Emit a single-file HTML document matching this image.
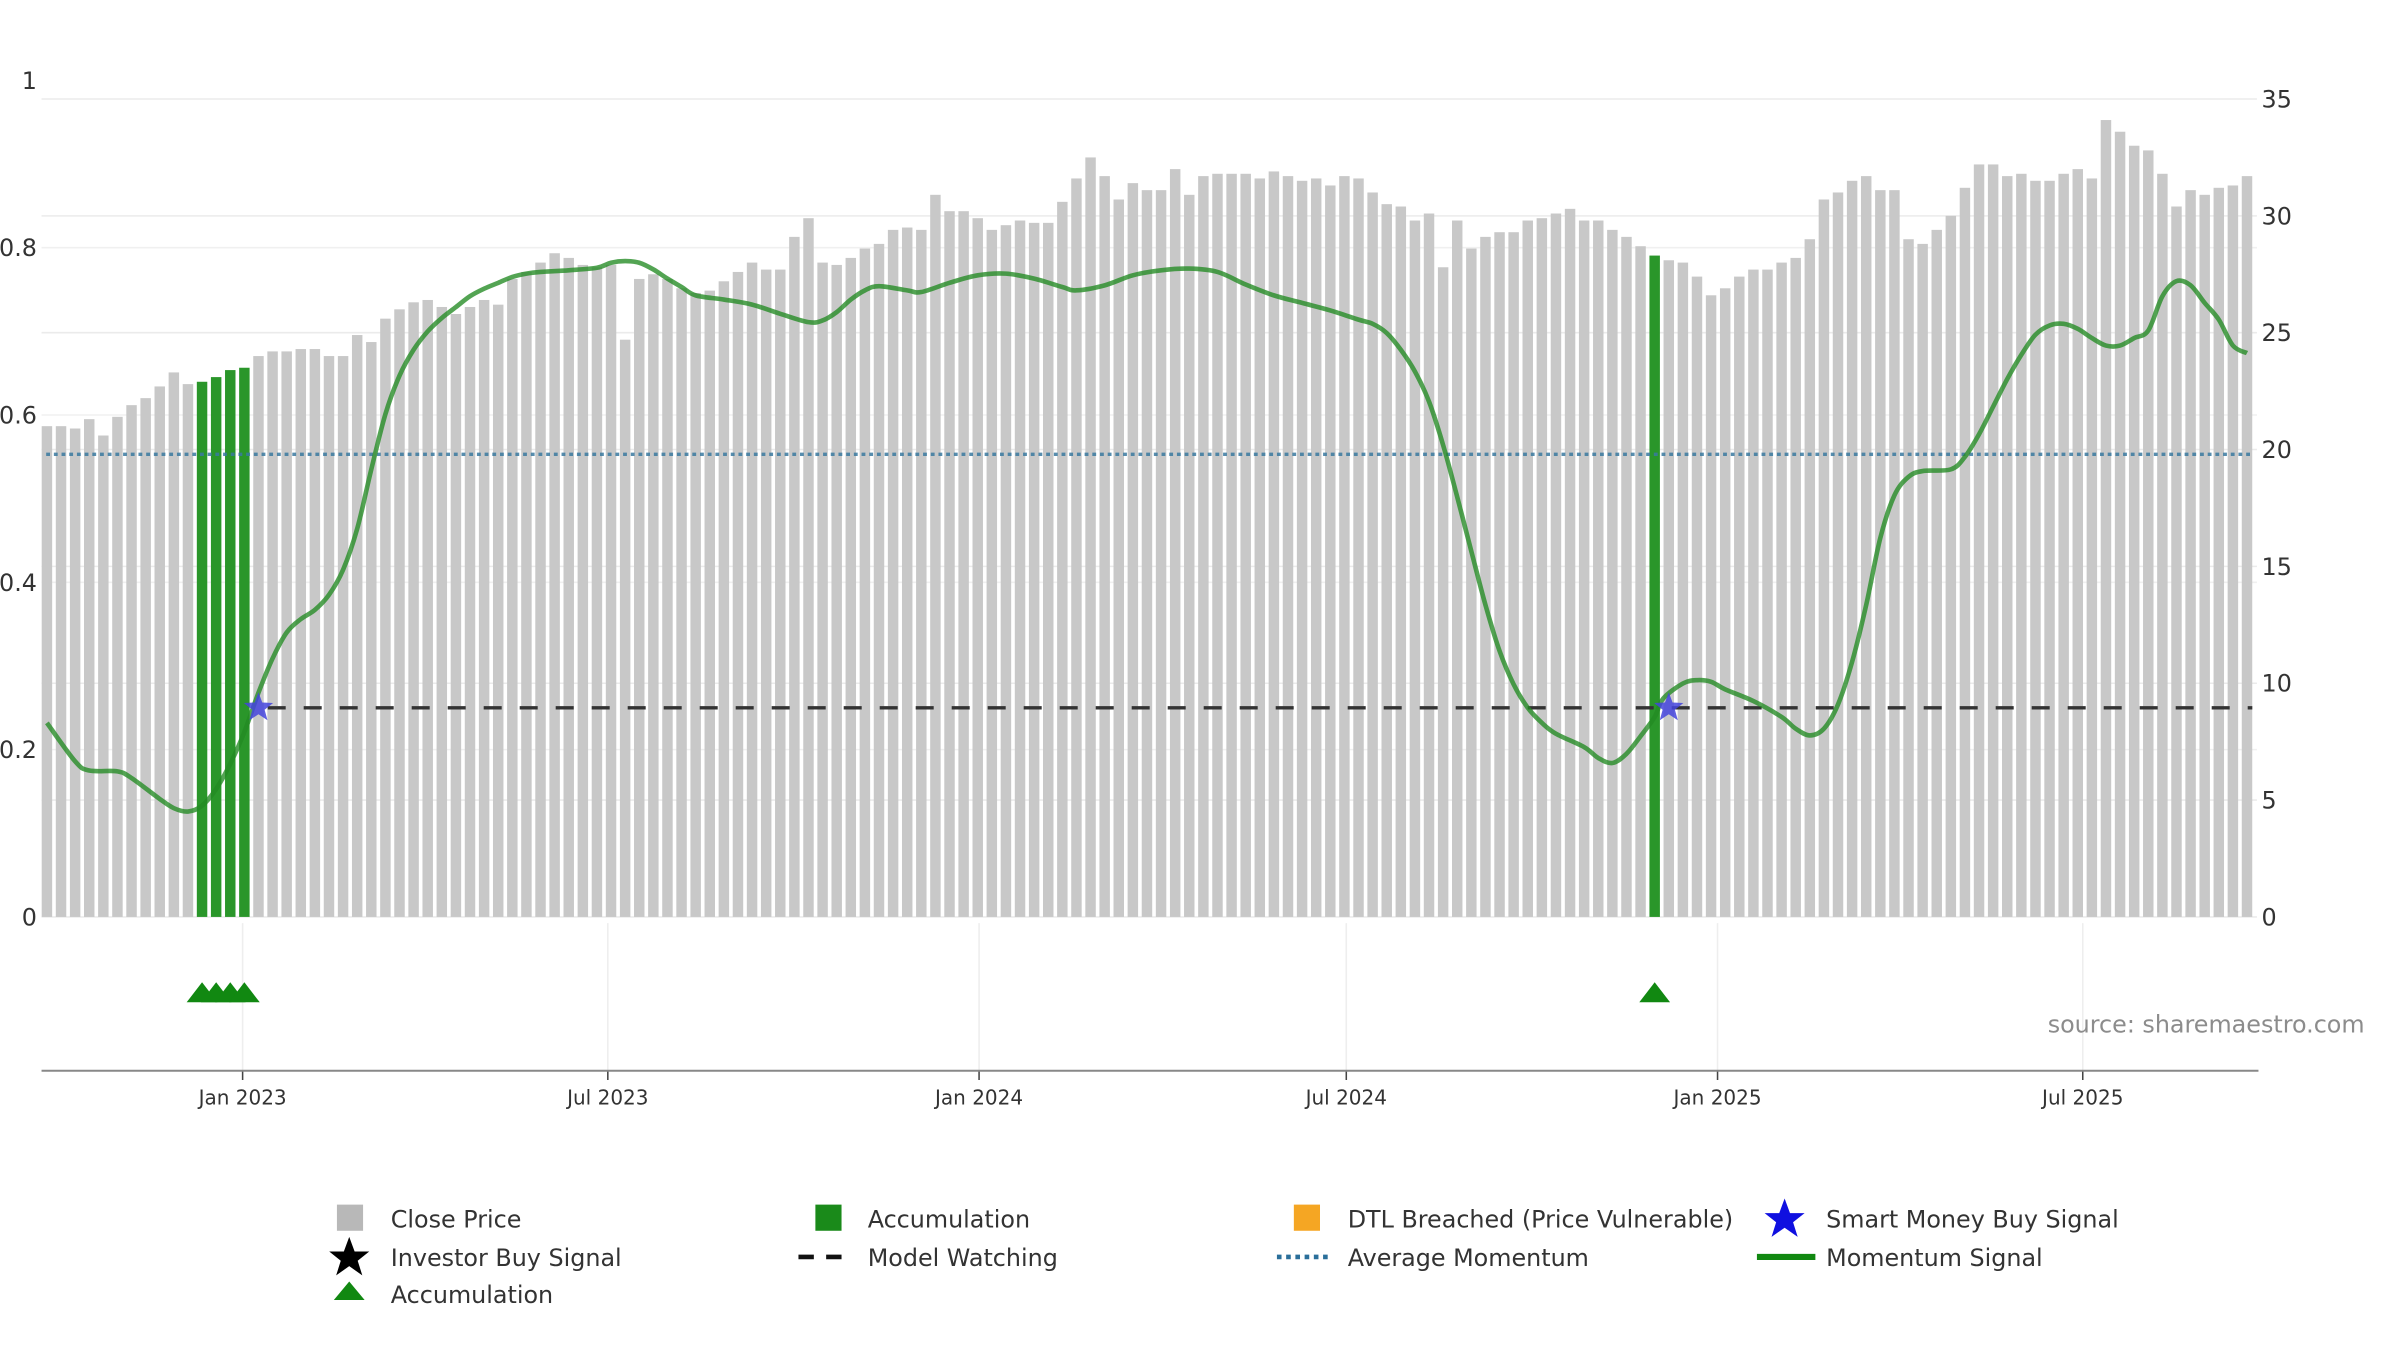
<!DOCTYPE html>
<html><head><meta charset="utf-8">
<style>
html,body{margin:0;padding:0;background:#fff;}
svg{display:block;font-family:"DejaVu Sans","Liberation Sans",sans-serif;}
</style></head>
<body>
<svg id="chart" width="2400" height="1350" viewBox="0 0 1560 877.5" preserveAspectRatio="none" xmlns="http://www.w3.org/2000/svg">
<g id="grid"></g>
<g id="bars"></g>
<g id="lines"></g>
<g id="axes"></g>
<text x="1537" y="671" text-anchor="end" font-size="15.5" fill="#8c8c8c">source: sharemaestro.com</text>
<g id="legend" font-size="15.5" fill="#333">
  <g><rect x="219" y="783" width="17" height="17" fill="#b8b8b8"/><text x="254" y="798">Close Price</text></g>
  <g><rect x="530" y="783" width="17" height="17" fill="#1a8a1a"/><text x="564" y="798">Accumulation</text></g>
  <g><rect x="841" y="783" width="17" height="17" fill="#f5a623"/><text x="876" y="798">DTL Breached (Price Vulnerable)</text></g>
  <g><polygon points="1160,779 1163.5,788.5 1173,788.5 1165.5,794.5 1168.5,804 1160,798 1151.5,804 1154.5,794.5 1147,788.5 1156.5,788.5" fill="#1010e0"/><text x="1187" y="798">Smart Money Buy Signal</text></g>
  <g><polygon points="227,804 230.5,813.5 240,813.5 232.5,819.5 235.5,829 227,823 218.5,829 221.5,819.5 214,813.5 223.5,813.5" fill="#000"/><text x="254" y="823">Investor Buy Signal</text></g>
  <g><line x1="519" y1="817" x2="555" y2="817" stroke="#111" stroke-width="3" stroke-dasharray="10,8"/><text x="564" y="823">Model Watching</text></g>
  <g><line x1="830" y1="817" x2="866" y2="817" stroke="#2a6f9a" stroke-width="3" stroke-dasharray="3,3"/><text x="876" y="823">Average Momentum</text></g>
  <g><line x1="1142" y1="817" x2="1180" y2="817" stroke="#118811" stroke-width="4"/><text x="1187" y="823">Momentum Signal</text></g>
  <g><polygon points="227,833 237,845 217,845" fill="#118811"/><text x="254" y="847">Accumulation</text></g>
</g>
</svg>
<script>
// ---- data ----
const prices = [21.0,21.0,20.9,21.3,20.6,21.4,21.9,22.2,22.7,23.3,22.8,22.9,23.1,23.4,23.5,24.0,24.2,24.2,24.3,24.3,24.0,24.0,24.9,24.6,25.6,26.0,26.3,26.4,26.1,25.8,26.1,26.4,26.2,27.3,27.6,28.0,28.4,28.2,27.9,27.8,27.9,24.7,27.3,27.5,27.3,26.9,26.7,26.8,27.2,27.6,28.0,27.7,27.7,29.1,29.9,28.0,27.9,28.2,28.6,28.8,29.4,29.5,29.4,30.9,30.2,30.2,29.9,29.4,29.6,29.8,29.7,29.7,30.6,31.6,32.5,31.7,30.7,31.4,31.1,31.1,32.0,30.9,31.7,31.8,31.8,31.8,31.6,31.9,31.7,31.5,31.6,31.3,31.7,31.6,31.0,30.5,30.4,29.8,30.1,27.8,29.8,28.6,29.1,29.3,29.3,29.8,29.9,30.1,30.3,29.8,29.8,29.4,29.1,28.7,28.3,28.1,28.0,27.4,26.6,26.9,27.4,27.7,27.7,28.0,28.2,29.0,30.7,31.0,31.5,31.7,31.1,31.1,29.0,28.8,29.4,30.0,31.2,32.2,32.2,31.7,31.8,31.5,31.5,31.8,32.0,31.6,34.1,33.6,33.0,32.8,31.8,30.4,31.1,30.9,31.2,31.3,31.7];
const accumIdx = [11,12,13,14,114];
const momIdx = [0,2,3,5,6,8,9,10,11,12,13,14,15,16,17,18,19,20,21,22,23,24,25,26,27,28,29,30,31,32,33,34,35,37,39,40,41,42,43,44,45,46,48,50,52,54,55,56,57,58,59,61,62,64,66,68,70,72,73,75,77,79,81,83,85,87,89,91,93,94,95,96,97,98,99,100,101,102,103,104,105,106,107,109,110,111,112,113,114,114.6,116,117,118,119,121,123,124,125,126,127,128,129,130,131,132,133,135,136,137,138,139,140,141,142,143,144,145,146,147,148,149,150,151,152,153,154,155,156];
const momVal = [0.232,0.186,0.175,0.174,0.166,0.141,0.13,0.126,0.133,0.153,0.183,0.221,0.268,0.309,0.34,0.356,0.367,0.385,0.415,0.464,0.535,0.601,0.647,0.678,0.70,0.716,0.729,0.742,0.751,0.758,0.765,0.769,0.771,0.773,0.776,0.782,0.784,0.782,0.774,0.763,0.753,0.743,0.738,0.732,0.721,0.711,0.713,0.723,0.738,0.749,0.754,0.749,0.747,0.758,0.767,0.769,0.763,0.753,0.749,0.755,0.767,0.773,0.775,0.771,0.756,0.743,0.734,0.725,0.714,0.709,0.698,0.678,0.652,0.616,0.564,0.502,0.437,0.373,0.318,0.278,0.25,0.232,0.219,0.203,0.19,0.184,0.195,0.216,0.239,0.261,0.279,0.283,0.281,0.272,0.258,0.239,0.225,0.217,0.225,0.254,0.305,0.373,0.453,0.504,0.526,0.533,0.535,0.55,0.577,0.61,0.643,0.672,0.696,0.707,0.709,0.703,0.692,0.683,0.683,0.692,0.701,0.742,0.76,0.755,0.734,0.714,0.683,0.674];
const avgMomentum = 0.553;
const watchLevel = 0.25;
const starIdx = [15,115];
const leftTicks = [0,0.2,0.4,0.6,0.8,1];
const leftTickLabels = ["0","0.2","0.4","0.6","0.8","1"];
const rightTicks = [0,5,10,15,20,25,30,35];
const xTickDates = ["2023-01-01","2023-07-01","2024-01-01","2024-07-01","2025-01-01","2025-07-01"];
const xTickLabels = ["Jan 2023","Jul 2023","Jan 2024","Jul 2024","Jan 2025","Jul 2025"];

// ---- scales ----
const NS="http://www.w3.org/2000/svg";
const X0=27, X1=1467, YB=596;
const DAY=86400000, ref=Date.parse("2023-01-01"), pxDay=1.3115;
const xDate = d => 157.7 + (Date.parse(d)-ref)/DAY*pxDay;
const x0 = 30.5, step = 9.167;
const xIdx = i => x0 + i*step;
const yL = v => YB - v*543.75;
const yR = v => YB - v*15.19;
function mk(tag, attrs, parent){const e=document.createElementNS(NS,tag);for(const k in attrs)e.setAttribute(k,attrs[k]);parent.appendChild(e);return e;}
const grid=document.getElementById('grid'), bars=document.getElementById('bars'), lines=document.getElementById('lines'), axes=document.getElementById('axes');

rightTicks.forEach(t=>{
  const l=mk('line',{x1:X0,x2:X1,y1:yR(t),y2:yR(t),stroke:'#ebebeb','stroke-width':1},grid);
  
  
  const tx=mk('text',{x:1470,y:yR(t)+5.5,'font-size':15.5,fill:'#333'},axes); tx.textContent=t;
  
  
});
leftTicks.forEach((t,k)=>{
  if(t>0 && t<1){const l=mk('line',{x1:X0,x2:X1,y1:yL(t),y2:yL(t),stroke:'#f0f0f0','stroke-width':1},grid);
  
  }
  const tx=mk('text',{x:24,y:yL(t)+5.5,'font-size':15.5,fill:'#333','text-anchor':'end'},axes); tx.textContent=leftTickLabels[k];
  
  
});

prices.forEach((p,i)=>{
  const acc=accumIdx.includes(i);
  const r=mk('rect',{x:xIdx(i)-3.4,y:yR(p),width:6.8,height:YB-yR(p),fill:acc?'#2a962a':'#c8c8c8'},bars);
  
  
});

const av=mk('line',{x1:X0+3,x2:X1-3,y1:yL(avgMomentum),y2:yL(avgMomentum),stroke:'#3a7aa0','stroke-width':2.2,'stroke-dasharray':'2.5,2.5',opacity:0.85},lines);



const wl=mk('line',{x1:xIdx(starIdx[0])+6,x2:X1-3,y1:yL(watchLevel),y2:yL(watchLevel),stroke:'#333','stroke-width':2.2,'stroke-dasharray':'11.7,11.7'},lines);



const pts=momIdx.map((i,k)=>[xIdx(i),yL(momVal[k])]);
let d='M'+pts[0][0]+','+pts[0][1];
for(let k=1;k<pts.length;k++){const p0=pts[k-2]||pts[k-1],p1=pts[k-1],p2=pts[k],p3=pts[k+1]||pts[k];
  const c1=[p1[0]+(p2[0]-p0[0])/6,p1[1]+(p2[1]-p0[1])/6],c2=[p2[0]-(p3[0]-p1[0])/6,p2[1]-(p3[1]-p1[1])/6];
  d+=` C${c1[0]},${c1[1]} ${c2[0]},${c2[1]} ${p2[0]},${p2[1]}`;}
const ml=mk('path',{d:d,fill:'none',stroke:'#238a23','stroke-width':3,opacity:0.78},lines);



function star(cx,cy,R){let s='';for(let k=0;k<10;k++){const r=k%2?R*0.42:R,a=-Math.PI/2+k*Math.PI/5;s+=(cx+r*Math.cos(a))+','+(cy+r*Math.sin(a))+' ';}return s;}
starIdx.forEach(i=>{
  const s=mk('polygon',{points:star(xIdx(i),yL(watchLevel),10),fill:'#4444dd',opacity:0.85},lines);
  
  
});

// lower panel
xTickDates.forEach((dt,k)=>{
  const x=xDate(dt);
  const g=mk('line',{x1:x,x2:x,y1:600,y2:696,stroke:'#eeeeee','stroke-width':1},grid);
  
  
  const t=mk('line',{x1:x,x2:x,y1:696,y2:702,stroke:'#444','stroke-width':1},axes);
  
  
  const tx=mk('text',{x:x,y:718,'font-size':13,fill:'#333','text-anchor':'middle'},axes); tx.textContent=xTickLabels[k];
  
  
});
const xa=mk('line',{x1:X0,x2:X1+1,y1:696,y2:696,stroke:'#888','stroke-width':1.3},axes);


accumIdx.forEach(i=>{
  const x=xIdx(i);
  const tr=mk('polygon',{points:`${x},638.5 ${x+10},651.5 ${x-10},651.5`,fill:'#118811'},lines);
  
  
});
</script>
</body></html>
